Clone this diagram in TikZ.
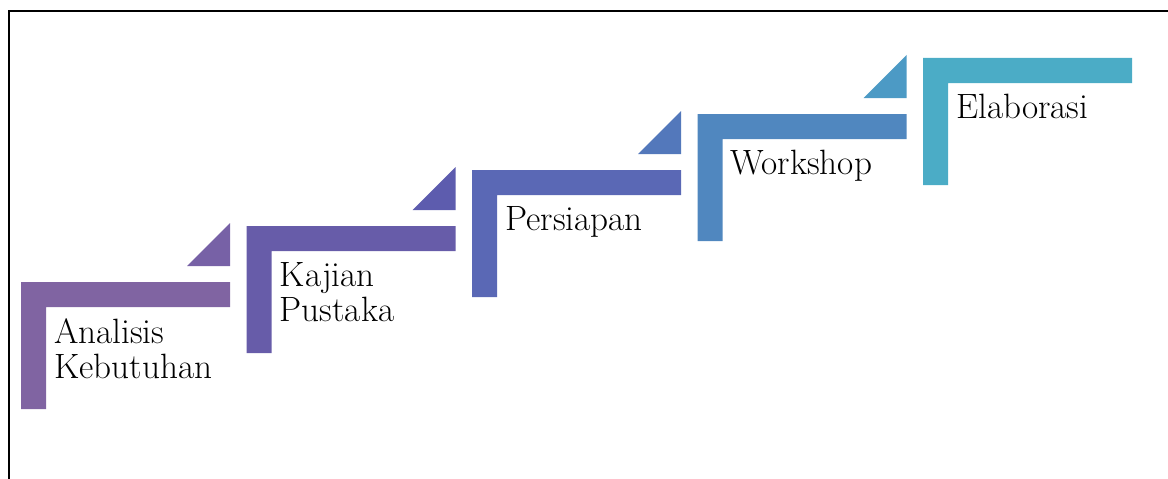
\documentclass[tikz,border=0pt]{standalone}
\usepackage{fontspec}
\usepackage{tikz}
\usetikzlibrary{positioning}

\definecolor{stepA}{HTML}{8064A2}
\definecolor{stepB}{HTML}{675CA9}
\definecolor{stepC}{HTML}{5A68B5}
\definecolor{stepD}{HTML}{5087BF}
\definecolor{stepE}{HTML}{4BACC6}
\definecolor{triA}{HTML}{7761A6}
\definecolor{triB}{HTML}{5D5CAE}
\definecolor{triC}{HTML}{5378BB}
\definecolor{triD}{HTML}{4C9AC5}

\tikzset{
  steptext/.style={anchor=north west, inner sep=0pt, align=left,
    font=\fontsize{25}{25}\selectfont},
}

\begin{document}
\begin{tikzpicture}[x=0.025cm, y=-0.025cm]
\useasboundingbox (0,0) rectangle (1168,479);
% frame
\draw[line width=1.4pt] (9,479) -- (9,11) -- (1168,11);

% L-shaped steps
\foreach \i/\col/\txt in {0/stepA/{Analisis\\Kebutuhan}, 1/stepB/{Kajian\\Pustaka},
    2/stepC/{Persiapan}, 3/stepD/{Workshop}, 4/stepE/{Elaborasi}}{
  \pgfmathsetmacro{\L}{21+225.5*\i}
  \pgfmathsetmacro{\T}{282-56*\i}
  \fill[\col] (\L,\T+127) -- (\L,\T) -- (\L+209,\T) -- (\L+209,\T+25)
    -- (\L+25,\T+25) -- (\L+25,\T+127) -- cycle;
  \node[steptext] (lbl\i) at (\L+33,\T+36) {\txt};
}

% small triangles
\foreach \i/\col in {0/triA, 1/triB, 2/triC, 3/triD}{
  \pgfmathsetmacro{\L}{21+225.5*\i}
  \pgfmathsetmacro{\T}{282-56*\i}
  \fill[\col] (\L+209,\T-59) -- (\L+209,\T-16) -- (\L+166,\T-16) -- cycle;
}
\end{tikzpicture}
\end{document}
